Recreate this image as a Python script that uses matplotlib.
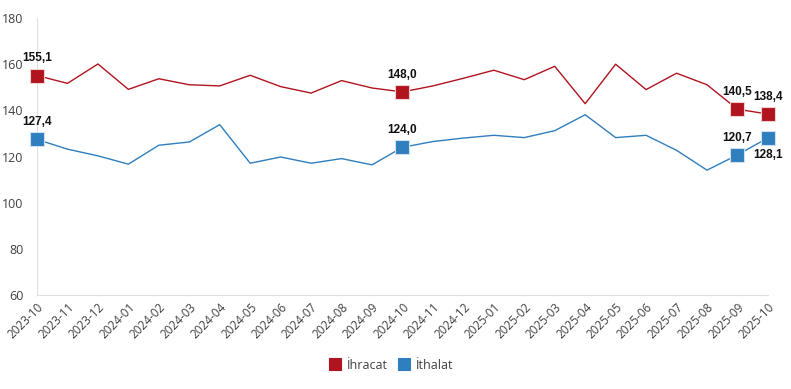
import matplotlib.pyplot as plt

months = ['2023-10', '2023-11', '2023-12', '2024-01', '2024-02', '2024-03', '2024-04',
          '2024-05', '2024-06', '2024-07', '2024-08', '2024-09', '2024-10', '2024-11',
          '2024-12', '2025-01', '2025-02', '2025-03', '2025-04', '2025-05', '2025-06',
          '2025-07', '2025-08', '2025-09', '2025-10']
ihracat = [155.1, 151.7, 160.1, 149.1, 153.7, 151.1, 150.6, 155.2, 150.3, 147.5, 152.9, 149.7,
           148.0, 150.6, 153.9, 157.4, 153.3, 159.1, 142.9, 160.0, 149.0, 156.1, 151.1, 140.5, 138.4]
ithalat = [127.4, 123.2, 120.3, 116.7, 124.9, 126.3, 133.8, 117.1, 119.8, 117.1, 119.1, 116.4,
           124.0, 126.5, 128.0, 129.2, 128.2, 131.2, 138.1, 128.2, 129.2, 122.7, 114.1, 120.7, 128.1]
marked = [0, 12, 23, 24]

red = '#B0141E'
blue = '#2F7EBE'

plt.rcParams['font.family'] = ['Open Sans', 'DejaVu Sans']

fig = plt.figure(figsize=(7.91, 3.89), dpi=100)
ax = fig.add_axes([0.0468, 0.2416, 0.924, 0.712])

x = list(range(len(months)))
ax.plot(x, ihracat, color=red, lw=1.0, marker='s', markersize=10, markevery=marked,
        markeredgecolor='#f3d0d0', markeredgewidth=0.8, label='İhracat', zorder=3, clip_on=False)
ax.plot(x, ithalat, color=blue, lw=1.0, marker='s', markersize=10, markevery=marked,
        markeredgecolor='#cfe0f0', markeredgewidth=0.8, label='İthalat', zorder=3, clip_on=False)

def lab(v, i, above=True):
    txt = f'{v:.1f}'.replace('.', ',')
    off = 8 if above else -8
    ax.annotate(txt, (i, v), xytext=(0, off), textcoords='offset points',
                ha='center', va='bottom' if above else 'top', fontsize=8.5,
                fontweight='bold', family='Liberation Sans', color='#111111')

for i in marked:
    lab(ihracat[i], i)
for i in marked[:-1]:
    lab(ithalat[i], i)
lab(ithalat[24], 24, above=False)

ax.set_xlim(0, len(months) - 1)
ax.set_ylim(60, 180)
ax.set_yticks(range(60, 181, 20))
ax.set_xticks(x)
ax.set_xticklabels(months, rotation=45, ha='right', rotation_mode='anchor', fontsize=8.5, color='#404040')
ax.tick_params(axis='y', labelsize=9, colors='#404040', length=0, pad=10)
ax.tick_params(axis='x', length=0, pad=4)
for s in ['top', 'right']:
    ax.spines[s].set_visible(False)
for s in ['left', 'bottom']:
    ax.spines[s].set_color('#e0e0e0')

ax.legend(loc='upper center', bbox_to_anchor=(0.485, -0.19), ncol=2, frameon=False,
          handlelength=0.9, handleheight=0.9, fontsize=9,
          labelcolor='#404040', columnspacing=0.9, handletextpad=0.45)
leg = ax.get_legend()
for h, c in zip(leg.legend_handles, [red, blue]):
    h.set_linestyle('')
    h.set_marker('s')
    h.set_markersize(9)
    h.set_markerfacecolor(c)
    h.set_markeredgecolor(c)

fig.savefig('out.png', dpi=100)
